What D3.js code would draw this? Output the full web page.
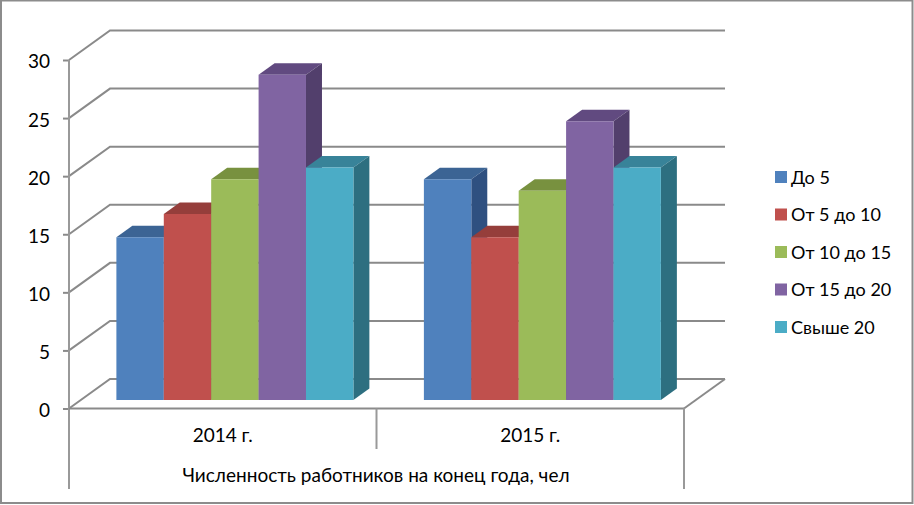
<!DOCTYPE html>
<html><head><meta charset="utf-8">
<script src="https://cdn.jsdelivr.net/npm/d3@7"></script>
<style>html,body{margin:0;padding:0;background:#fff}svg{display:block}text{font-family:Lato,"Open Sans",sans-serif;fill:#000}</style>
</head><body><svg id="c" width="914" height="505"></svg>
<script>
const categories = ["2014 г.", "2015 г."];
const seriesNames = ["До 5", "От 5 до 10", "От 10 до 15", "От 15 до 20", "Свыше 20"];
const values2014 = [14, 16, 19, 28, 20];
const values2015 = [19, 14, 18, 24, 20];
const yTicks = [0, 5, 10, 15, 20, 25, 30];
const axisTitle = "Численность работников на конец года, чел";
const frontColors = ["#4F81BD", "#C0504D", "#9BBB59", "#8064A2", "#4BACC6"];
const topColors = ["#3C6494", "#953E3B", "#78913F", "#614A80", "#388399"];
const sideColors = ["#2F5080", "#7D3230", "#647A34", "#523F6C", "#2D6F80"];
const gridColor = "#8a8a8a";

const svg = d3.select("#c");
const y = d3.scaleLinear().domain([0, 30]).range([408.5, 60]);
const x0 = d3.scaleBand().domain(categories).range([69, 684]);
const legendY = d3.scalePoint().domain(seriesNames).range([177, 327]);
const depth = {dx: 41, dy: -29.5};
const barFront = 0.29, barBack = 0.68;
const barInset = 35.5;
const x1 = d3.scaleBand().domain(seriesNames).range([barInset, x0.bandwidth() - barInset + 0.5]);
const P = (x, v, t) => [x + depth.dx * t, y(v) + depth.dy * t];
const poly = pts => pts.map(p => p.join(",")).join(" ");

// outer border
svg.append("rect").attr("x", 1).attr("y", 0.5).attr("width", 911.5).attr("height", 502.5)
  .attr("fill", "#fff").attr("stroke", "#8c8c8c").attr("stroke-width", 2);

// walls: gridlines and diagonals
const walls = svg.append("g").attr("fill", "none").attr("stroke", gridColor).attr("stroke-width", 2);
yTicks.forEach(v => {
  walls.append("polyline").attr("points", poly([P(69, v, 0), P(69, v, 1), P(684, v, 1)]));
});
walls.append("line").attr("x1", 684).attr("y1", y(0)).attr("x2", 684 + depth.dx).attr("y2", y(0) + depth.dy);

// bars
[values2014, values2015].forEach((vals, ci) => {
  const g = svg.append("g").attr("transform", `translate(${x0(categories[ci])},0)`);
  vals.forEach((v, i) => {
    const xa = x1(seriesNames[i]), xb = xa + x1.bandwidth();
    g.append("polygon").attr("fill", topColors[i]).attr("points",
      poly([P(xa, v, barFront), P(xb, v, barFront), P(xb, v, barBack), P(xa, v, barBack)]));
    g.append("polygon").attr("fill", sideColors[i]).attr("points",
      poly([P(xb, v, barFront), P(xb, v, barBack), P(xb, 0, barBack), P(xb, 0, barFront)]));
    g.append("polygon").attr("fill", frontColors[i]).attr("points",
      poly([P(xa, v, barFront), P(xb, v, barFront), P(xb, 0, barFront), P(xa, 0, barFront)]));
  });
});

// y axis
const yAxis = d3.axisLeft(y).tickValues(yTicks).tickSize(6).tickPadding(13);
const ya = svg.append("g").attr("transform", "translate(69,0)").call(yAxis);
ya.select(".domain").remove();
ya.selectAll("line").attr("stroke", gridColor).attr("stroke-width", 2);
ya.selectAll("text").attr("font-size", 19).attr("dy", "0.42em");

// front lines and multi-level category axis
const ax = svg.append("g").attr("stroke", "#999").attr("stroke-width", 2);
ax.append("line").attr("x1", 69).attr("x2", 69).attr("y1", y(30)).attr("y2", 489);
ax.append("line").attr("x1", 69).attr("x2", 684).attr("y1", y(0)).attr("y2", y(0)).attr("stroke", gridColor);
ax.append("line").attr("x1", 376.5).attr("x2", 376.5).attr("y1", y(0)).attr("y2", 449);
ax.append("line").attr("x1", 684).attr("x2", 684).attr("y1", y(0)).attr("y2", 489);

svg.append("g").selectAll("text").data(categories).join("text")
  .attr("x", d => x0(d) + x0.bandwidth() / 2).attr("y", 442)
  .attr("text-anchor", "middle").attr("font-size", 19).text(d => d);
svg.append("text").attr("x", 376).attr("y", 482).attr("text-anchor", "middle")
  .attr("font-size", 19).text(axisTitle);

// legend
const lg = svg.append("g").selectAll("g").data(seriesNames).join("g")
  .attr("transform", d => `translate(775,${legendY(d)})`);
lg.append("rect").attr("x", 0).attr("y", -6).attr("width", 12).attr("height", 12)
  .attr("fill", (d, i) => frontColors[i]);
lg.append("text").attr("x", 16).attr("y", 6.5).attr("font-size", 18).text(d => d);
</script></body></html>
